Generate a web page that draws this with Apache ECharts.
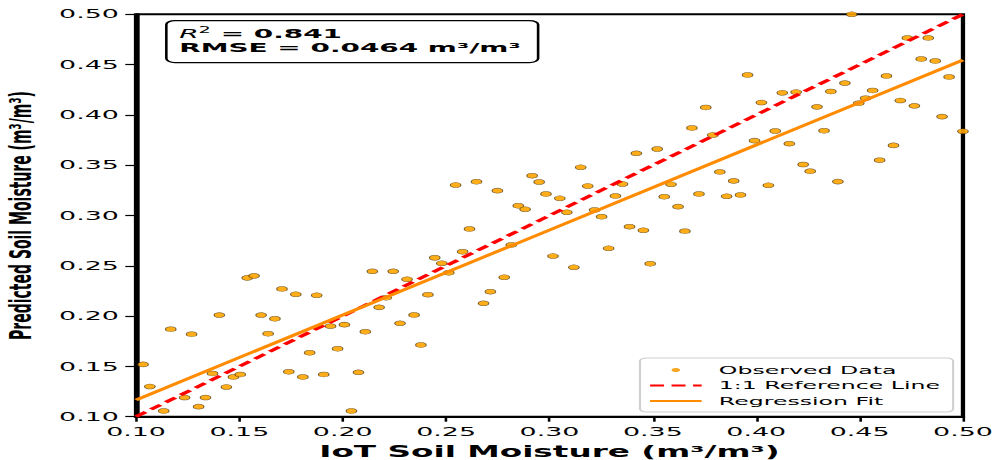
<!DOCTYPE html>
<html>
<head>
<meta charset="utf-8">
<script src="https://cdn.jsdelivr.net/npm/echarts@6/dist/echarts.min.js"></script>
<style>
html,body{margin:0;padding:0;background:#fff;overflow:hidden;}
#wrap{width:995px;height:460px;overflow:hidden;position:relative;background:#fff;}
#chart{width:463px;height:460px;transform:scaleX(2.149);transform-origin:0 0;}
</style>
</head>
<body>
<div id="wrap"><div id="chart"></div></div>
<script>
// IoT soil moisture (x) and predicted soil moisture (y), m3/m3
const iotX = [
  0.1034,0.1067,0.1134,0.1168,0.1235,0.1269,0.1303,0.1336,0.1370,0.1403,
  0.1437,0.1471,0.1504,0.1538,0.1571,0.1605,0.1639,0.1672,0.1706,0.1739,
  0.1773,0.1807,0.1840,0.1874,0.1908,0.1941,0.1975,0.2008,0.2042,0.2076,
  0.2109,0.2143,0.2176,0.2210,0.2244,0.2277,0.2311,0.2345,0.2378,0.2412,
  0.2445,0.2479,0.2513,0.2546,0.2580,0.2613,0.2647,0.2681,0.2714,0.2748,
  0.2781,0.2815,0.2849,0.2882,0.2916,0.2950,0.2983,0.3017,0.3050,0.3084,
  0.3118,0.3151,0.3185,0.3218,0.3252,0.3286,0.3319,0.3353,0.3387,0.3420,
  0.3454,0.3487,0.3521,0.3555,0.3588,0.3622,0.3655,0.3689,0.3723,0.3756,
  0.3790,0.3824,0.3857,0.3891,0.3924,0.3958,0.3992,0.4025,0.4059,0.4092,
  0.4126,0.4160,0.4193,0.4227,0.4261,0.4294,0.4328,0.4361,0.4395,0.4429,
  0.4462,0.4496,0.4529,0.4563,0.4597,0.4630,0.4664,0.4697,0.4731,0.4765,
  0.4798,0.4832,0.4866,0.4899,0.4933,0.5000
];
const predY = [
  0.152,0.130,0.1057,0.187,0.119,0.182,0.110,0.119,0.143,0.201,
  0.1295,0.1395,0.142,0.238,0.240,0.201,0.1825,0.1974,0.227,0.1447,
  0.2217,0.1395,0.1636,0.2207,0.142,0.190,0.1676,0.1915,0.1057,0.1441,
  0.1845,0.2445,0.2087,0.2183,0.2445,0.1928,0.2366,0.2011,0.1713,0.2213,
  0.258,0.2525,0.2431,0.3303,0.264,0.2866,0.3336,0.2127,0.2243,0.3247,
  0.2386,0.2707,0.3097,0.3062,0.3396,0.3333,0.3214,0.2597,0.3171,0.3032,
  0.2485,0.3479,0.3293,0.3055,0.2988,0.2674,0.3194,0.3313,0.2889,0.3618,
  0.2853,0.2521,0.3661,0.3187,0.331,0.3088,0.2844,0.387,0.3214,0.4074,
  0.380,0.3433,0.3191,0.3344,0.3204,0.4397,0.3744,0.4123,0.330,0.384,
  0.422,0.3714,0.4227,0.3507,0.344,0.408,0.3843,0.4233,0.3337,0.4316,
  0.500,0.4116,0.4166,0.4243,0.355,0.4387,0.3697,0.4143,0.4765,0.409,
  0.4556,0.4765,0.4536,0.3983,0.4377,0.3837
];
// 1:1 reference line
const refX = [0.10, 0.50];
const refY = [0.10, 0.50];
// regression fit line
const fitX = [0.10, 0.50];
const fitY = [0.1166, 0.4546];
// axis ticks
const tickLabels = ['0.10','0.15','0.20','0.25','0.30','0.35','0.40','0.45','0.50'];
const axisMin = 0.10, axisMax = 0.50, axisStep = 0.05;
const seriesNames = ['Observed Data', '1:1 Reference Line', 'Regression Fit'];
const statR2 = '0.841';
const statRMSE = '0.0464';

const FONT = 'DejaVu Sans';
const chart = echarts.init(document.getElementById('chart'), null, {renderer: 'svg', width: 463, height: 460});

const fmt = v => {
  const idx = Math.round((v - axisMin) / axisStep);
  return tickLabels[idx] !== undefined ? tickLabels[idx] : v.toFixed(2);
};

const axisCommon = {
  type: 'value', min: axisMin, max: axisMax, interval: axisStep,
  splitLine: {show: false},
  axisLine: {show: true, lineStyle: {color: '#000', width: 2}},
  axisTick: {show: true, inside: false, length: 5, lineStyle: {color: '#000', width: 1.2}}
};

chart.setOption({
  animation: false,
  backgroundColor: '#fff',
  grid: {left: 63.3, right: 14.9, top: 14.3, bottom: 43.3, containLabel: false, outerBoundsMode: 'none',
         show: true, borderColor: '#000', borderWidth: 2, backgroundColor: 'transparent'},
  xAxis: Object.assign({}, axisCommon, {
    name: 'IoT Soil Moisture (m³/m³)', nameLocation: 'middle', nameGap: 19,
    nameTextStyle: {fontFamily: FONT, fontWeight: 'bold', fontSize: 15.2, color: '#000', lineHeight: 16},
    axisLabel: {formatter: fmt, fontFamily: FONT, fontSize: 12.5, color: '#000', margin: 9, showMinLabel: true, showMaxLabel: true}
  }),
  yAxis: Object.assign({}, axisCommon, {
    name: 'Predicted Soil Moisture (m³/m³)', nameLocation: 'middle', nameGap: 46,
    nameTextStyle: {fontFamily: FONT, fontWeight: 'bold', fontSize: 14, color: '#000'},
    axisLabel: {formatter: fmt, fontFamily: FONT, fontSize: 12.5, color: '#000', margin: 8, showMinLabel: true, showMaxLabel: true}
  }),
  legend: {
    orient: 'vertical', left: 297.8, top: 358,
    data: [
      {name: seriesNames[0], itemStyle: {borderWidth: 0, color: '#f5a623'}},
      {name: seriesNames[1], itemStyle: {opacity: 0}},
      {name: seriesNames[2], itemStyle: {opacity: 0}}
    ],
    selectedMode: false,
    backgroundColor: '#fff', borderColor: '#d0d0d0', borderWidth: 1, borderRadius: 3,
    padding: [6, 6, 5, 3.7],
    itemWidth: 24, itemHeight: 4, itemGap: 3.5,
    textStyle: {fontFamily: FONT, fontSize: 11, color: '#000', lineHeight: 12, padding: [0, 0, 0, 3]}
  },
  series: [
    {
      name: seriesNames[0], type: 'scatter', symbol: 'circle', symbolSize: 5, clip: false,
      itemStyle: {color: 'rgba(255,165,0,0.9)', borderColor: 'rgba(60,40,0,0.7)', borderWidth: 0.5, opacity: 1},
      data: iotX.map((x, i) => [x, predY[i]]), z: 2
    },
    {
      name: seriesNames[1], type: 'line', symbol: 'none', showSymbol: false,
      lineStyle: {color: '#ff0000', width: 2.6, type: [6.5, 3.5]},
      itemStyle: {color: '#ff0000'},
      data: refX.map((x, i) => [x, refY[i]]), z: 3
    },
    {
      name: seriesNames[2], type: 'line', symbol: 'none', showSymbol: false,
      lineStyle: {color: '#ff8c00', width: 2.5, type: 'solid'},
      itemStyle: {color: '#ff8c00'},
      data: fitX.map((x, i) => [x, fitY[i]]), z: 4
    }
  ],
  graphic: [{
    type: 'group', left: 76.8, top: 20, z: 100,
    children: [
      {type: 'rect', shape: {x: 0, y: 0, width: 173, height: 42, r: 4},
       style: {fill: '#fff', stroke: '#000', lineWidth: 1.2}},
      {type: 'text', x: 6, y: 12.5,
       style: {
         text: '{i|R}{s|2}{b| = ' + statR2 + '}',
         verticalAlign: 'middle', align: 'left', fill: '#000',
         rich: {
           i: {fontFamily: FONT, fontStyle: 'italic', fontWeight: 'normal', fontSize: 13, lineHeight: 15, fill: '#000'},
           s: {fontFamily: FONT, fontWeight: 'normal', fontSize: 9, lineHeight: 9, verticalAlign: 'top', fill: '#000'},
           b: {fontFamily: FONT, fontWeight: 'bold', fontSize: 13, lineHeight: 15, fill: '#000'}
         }
       }},
      {type: 'text', x: 6, y: 27,
       style: {
         text: 'RMSE = ' + statRMSE + ' m³/m³',
         verticalAlign: 'middle', align: 'left', fill: '#000',
         fontFamily: FONT, fontWeight: 'bold', fontSize: 13
       }}
    ]
  }]
});
</script>
</body>
</html>
